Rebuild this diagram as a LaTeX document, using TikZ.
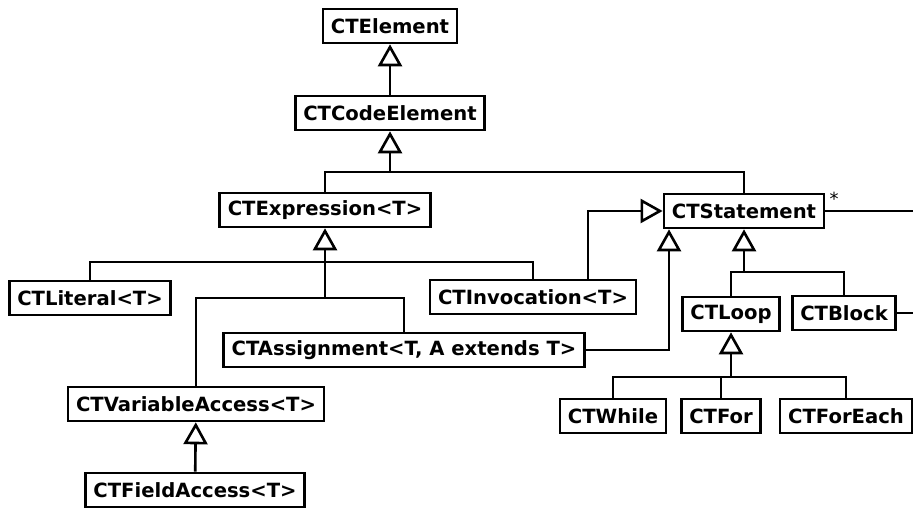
\documentclass[tikz,border=0pt]{standalone}
\usepackage{fontspec}
\setmainfont{DejaVu Sans}
\usetikzlibrary{arrows.meta}
\usetikzlibrary{calc}

\tikzset{
  cls/.style={draw, line width=1.3pt, font=\fontsize{9.8}{11}\selectfont\bfseries,
    inner xsep=4pt, inner ysep=0pt, minimum height=17pt, fill=white},
  gen/.style={-{Triangle[open,length=11pt,width=12pt]}},
}

\begin{document}
\begin{tikzpicture}[x=0.5pt,y=-0.5pt,line width=1.3pt]
    \useasboundingbox (0,0) rectangle (913,509);%

    % Classes
    \node[cls] (elem) at (390,26) {CTElement};%
    \node[cls] (codeel) at (390,113) {CTCodeElement};%
    \node[cls] (expr) at (325,210) {CTExpression<T>};%
    \node[cls] (stmt) at (744,211) {CTStatement};%
    \node[cls] (lit) at (90,298) {CTLiteral<T>};%
    \node[cls] (inv) at (533,297) {CTInvocation<T>};%
    \node[cls] (assign) at (404,350) {CTAssignment<T, A extends T>};%
    \node[cls] (var) at (196,404) {CTVariableAccess<T>};%
    \node[cls] (field) at (195,490) {CTFieldAccess<T>};%
    \node[cls] (loop) at (731,314) {CTLoop};%
    \node[cls] (block) at (844,313) {CTBlock};%
    \node[cls] (while) at (613,416) {CTWhile};%
    \node[cls] (for) at (721,416) {CTFor};%
    \node[cls] (foreach) at (846,416) {CTForEach};%

    % Junctions
    \coordinate (cj) at (390,172);% % below CTCodeElement
    \coordinate (ej) at (325,262);% % below CTExpression
    \coordinate (ej2) at (325,298);%
    \coordinate (sj) at (744,272);% % below CTStatement
    \coordinate (lj) at (731,377);% % below CTLoop
    \coordinate (out1) at (913,211);% % association, off the edge
    \coordinate (out2) at (913,313);%

    % Inheritance
    \draw[gen] (codeel) -- (elem);%
    \draw[gen] (cj) -- (codeel.south);%
    \draw (expr.north) |- (cj) -| (stmt.north);%
    \draw[gen] (ej) -- (expr.south);%
    \draw (lit.north) |- (ej) -| (inv.north);%
    \draw (ej) -- (ej2);%
    \draw (var.north) |- (ej2) -| (assign.north);%
    \draw[gen] ($(inv.north)+(55,0)$) |- (stmt.west);%
    \draw[gen] (assign.east) -| ($(stmt.south)+(-75,0)$);%
    \draw[gen] (field) -- (var);%
    \draw[gen] (sj) -- (stmt.south);%
    \draw (loop.north) |- (sj) -| (block.north);%
    \draw[gen] (lj) -- (loop.south);%
    \draw (while.north) |- (lj) -| (foreach.north);%
    \draw (for.north) -- (for.north |- lj);%

    % Association
    \draw (stmt.east) -- (out1);%
    \draw (block.east) -- (out2);%
    \node[font=\small, inner sep=0pt] (mult) at (834,199) {*};%
\end{tikzpicture}
\end{document}
